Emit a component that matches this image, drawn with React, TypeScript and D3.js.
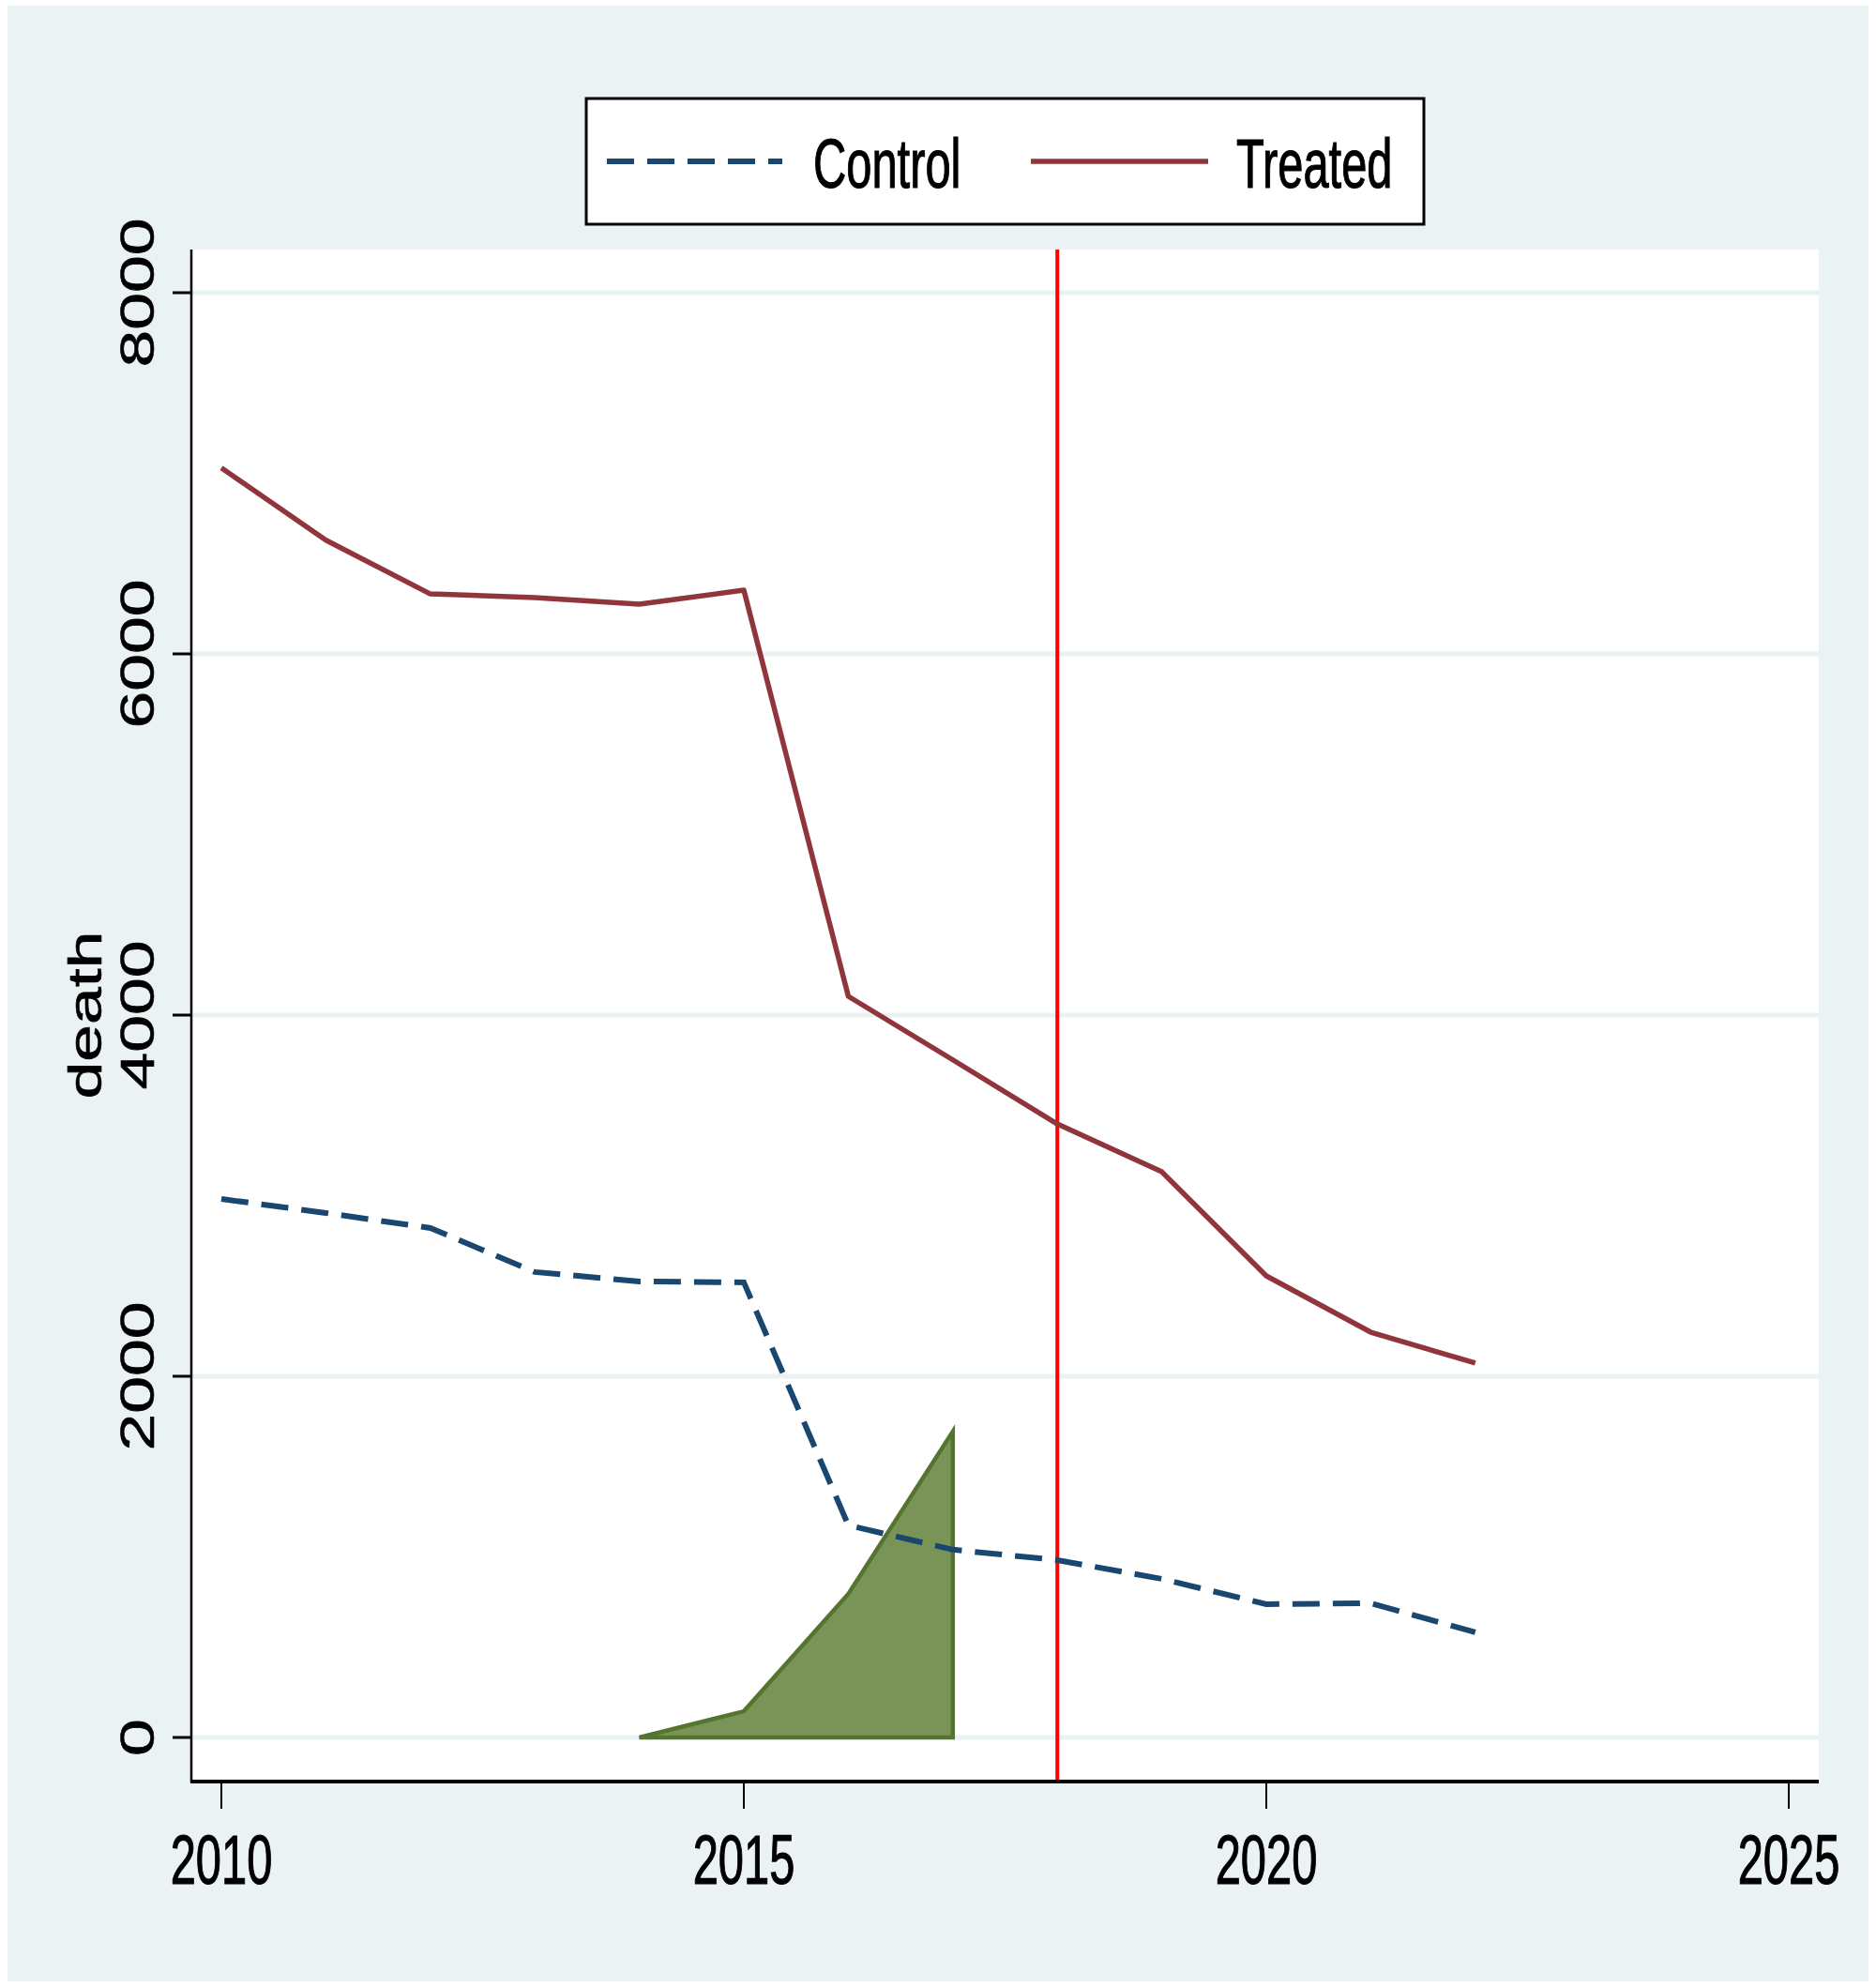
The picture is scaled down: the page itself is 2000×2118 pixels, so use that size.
import { useRef, useEffect } from 'react';
import * as d3 from 'd3';

const years = [2010, 2011, 2012, 2013, 2014, 2015, 2016, 2017, 2018, 2019, 2020, 2021, 2022];
const controlDeaths = [2982, 2904, 2821, 2577, 2525, 2520, 1175, 1040, 982, 878, 738, 743, 582];
const treatedDeaths = [7030, 6630, 6332, 6312, 6275, 6353, 4104, 3752, 3397, 3132, 2556, 2244, 2073];
const bandYears = [2014, 2015, 2016, 2017];
const bandValues = [0, 145, 795, 1694];
const xTicks = [2010, 2015, 2020, 2025];
const yTicks = [0, 2000, 4000, 6000, 8000];
const treatmentYear = 2018;
const seriesNames = ['Control', 'Treated'];
const yTitle = 'death';

export default function App() {
  const svgRef = useRef<SVGSVGElement>(null);

  useEffect(() => {
    if (!svgRef.current) return;

    const width = 2000;
    const height = 2118;
    const plot = { left: 204, right: 1939, top: 266, bottom: 1898 };

    const svg = d3.select(svgRef.current)
      .attr('width', width)
      .attr('height', height);

    svg.selectAll('*').remove();

    const x = d3.scaleLinear().domain([2010, 2025]).range([236, 1907]);
    const y = d3.scaleLinear().domain([0, 8000]).range([1852, 312]);

    // graph region + plot region
    svg.append('rect')
      .attr('x', 8).attr('y', 6)
      .attr('width', 1984).attr('height', 2106)
      .attr('fill', '#eaf2f3');
    svg.append('rect')
      .attr('x', plot.left).attr('y', plot.top)
      .attr('width', plot.right - plot.left).attr('height', plot.bottom - plot.top)
      .attr('fill', '#ffffff');

    // gridlines
    svg.append('g')
      .selectAll('line')
      .data(yTicks)
      .join('line')
      .attr('x1', plot.left).attr('x2', plot.right)
      .attr('y1', d => y(d)).attr('y2', d => y(d))
      .attr('stroke', '#eaf2f3')
      .attr('stroke-width', 5);

    // green band
    const band = bandYears.map((yr, i) => ({ yr, v: bandValues[i] }));
    const area = d3.area<{ yr: number; v: number }>()
      .x(d => x(d.yr))
      .y0(y(0))
      .y1(d => y(d.v));
    svg.append('path')
      .datum(band)
      .attr('d', area)
      .attr('fill', '#7a9458')
      .attr('stroke', '#55752f')
      .attr('stroke-width', 4.5)
      .attr('stroke-linejoin', 'miter');

    // treatment line
    svg.append('line')
      .attr('x1', x(treatmentYear)).attr('x2', x(treatmentYear))
      .attr('y1', plot.top).attr('y2', plot.bottom)
      .attr('stroke', '#ff0000')
      .attr('stroke-width', 4);

    const line = d3.line<number>()
      .x((_, i) => x(years[i]))
      .y(d => y(d));

    svg.append('path')
      .datum(treatedDeaths)
      .attr('d', line)
      .attr('fill', 'none')
      .attr('stroke', '#90353b')
      .attr('stroke-width', 5.5)
      .attr('stroke-linejoin', 'round');

    svg.append('path')
      .datum(controlDeaths)
      .attr('d', line)
      .attr('fill', 'none')
      .attr('stroke', '#1a476f')
      .attr('stroke-width', 6)
      .attr('stroke-dasharray', '29 14');

    // axes
    svg.append('line')
      .attr('x1', plot.left).attr('x2', plot.left)
      .attr('y1', plot.top).attr('y2', plot.bottom + 2)
      .attr('stroke', '#000').attr('stroke-width', 2.5);
    svg.append('line')
      .attr('x1', plot.left - 1).attr('x2', plot.right)
      .attr('y1', 1899).attr('y2', 1899)
      .attr('stroke', '#000').attr('stroke-width', 4);

    const yAxis = svg.append('g');
    yAxis.selectAll('line')
      .data(yTicks)
      .join('line')
      .attr('x1', 184).attr('x2', plot.left)
      .attr('y1', d => y(d)).attr('y2', d => y(d))
      .attr('stroke', '#000').attr('stroke-width', 3);
    yAxis.selectAll('text')
      .data(yTicks)
      .join('text')
      .attr('transform', d => `translate(164,${y(d)}) rotate(-90) scale(1.43,1)`)
      .attr('text-anchor', 'middle')
      .attr('font-family', 'Liberation Sans, Arial, sans-serif')
      .attr('font-size', 50)
      .attr('fill', '#000')
      .attr('stroke', '#000').attr('stroke-width', 0.6)
      .text(d => String(d));

    svg.append('text')
      .attr('transform', `translate(108,${y(4000)}) rotate(-90) scale(1.43,1)`)
      .attr('text-anchor', 'middle')
      .attr('font-family', 'Liberation Sans, Arial, sans-serif')
      .attr('font-size', 50)
      .attr('fill', '#000')
      .attr('stroke', '#000').attr('stroke-width', 0.6)
      .text(yTitle);

    const xAxis = svg.append('g');
    xAxis.selectAll('line')
      .data(xTicks)
      .join('line')
      .attr('x1', d => x(d)).attr('x2', d => x(d))
      .attr('y1', 1899).attr('y2', 1928)
      .attr('stroke', '#000').attr('stroke-width', 2);
    xAxis.selectAll('text')
      .data(xTicks)
      .join('text')
      .attr('transform', d => `translate(${x(d)},2008) scale(0.66,1)`)
      .attr('text-anchor', 'middle')
      .attr('font-family', 'Liberation Sans, Arial, sans-serif')
      .attr('font-size', 74)
      .attr('fill', '#000')
      .attr('stroke', '#000').attr('stroke-width', 1.2)
      .text(d => String(d));

    // legend
    const legend = svg.append('g');
    legend.append('rect')
      .attr('x', 625).attr('y', 105)
      .attr('width', 893).attr('height', 134)
      .attr('fill', '#fff')
      .attr('stroke', '#000').attr('stroke-width', 3);
    legend.append('line')
      .attr('x1', 647).attr('x2', 834)
      .attr('y1', 172).attr('y2', 172)
      .attr('stroke', '#1a476f').attr('stroke-width', 6)
      .attr('stroke-dasharray', '29 14');
    legend.append('line')
      .attr('x1', 1099).attr('x2', 1288)
      .attr('y1', 172).attr('y2', 172)
      .attr('stroke', '#90353b').attr('stroke-width', 5.5);
    legend.selectAll('text')
      .data(seriesNames)
      .join('text')
      .attr('transform', (_, i) => `translate(${i === 0 ? 867 : 1318},200) scale(0.66,1)`)
      .attr('font-family', 'Liberation Sans, Arial, sans-serif')
      .attr('font-size', 74)
      .attr('fill', '#000')
      .attr('stroke', '#000').attr('stroke-width', 1.2)
      .text(d => d);
  }, []);

  return (
    <svg ref={svgRef} style={{ position: 'absolute', left: 0, top: 0 }}></svg>
  );
}
